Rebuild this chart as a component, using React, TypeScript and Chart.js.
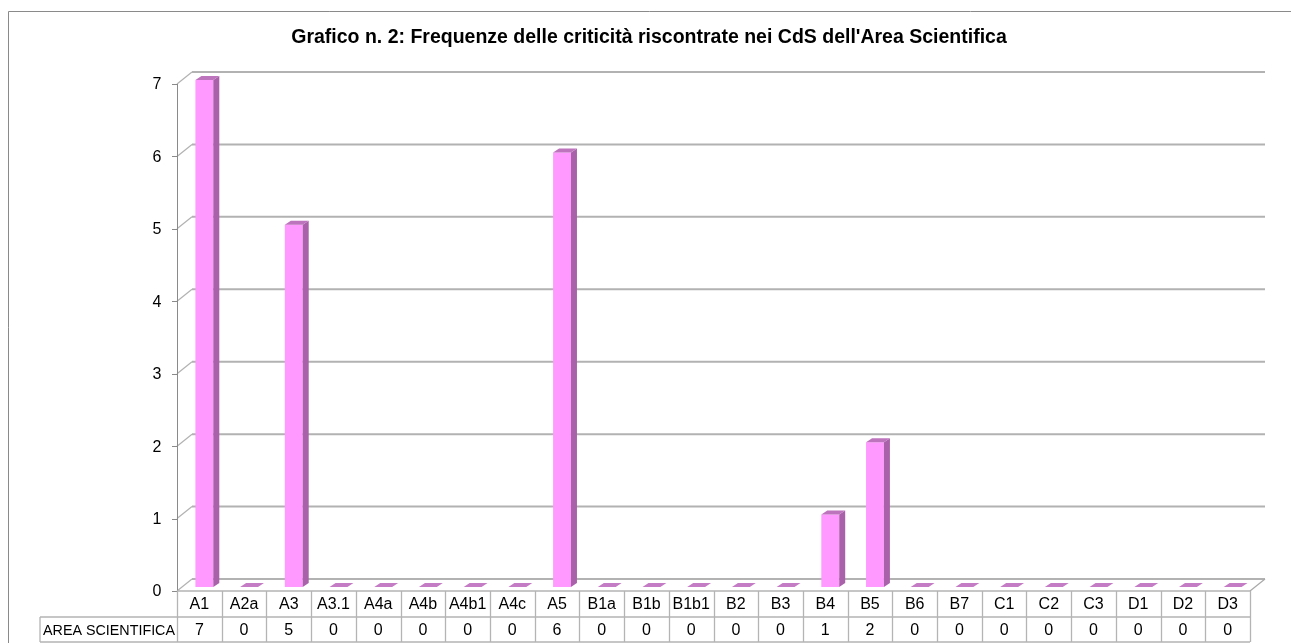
import React, { useEffect, useRef } from "react";
import { Chart, registerables } from "chart.js";

Chart.register(...registerables);

const chartTitle = "Grafico n. 2: Frequenze delle criticità riscontrate nei CdS dell'Area Scientifica";
const seriesName = "AREA SCIENTIFICA";
const categories = ["A1", "A2a", "A3", "A3.1", "A4a", "A4b", "A4b1", "A4c", "A5", "B1a", "B1b", "B1b1", "B2", "B3", "B4", "B5", "B6", "B7", "C1", "C2", "C3", "D1", "D2", "D3"];
const values = [7, 0, 5, 0, 0, 0, 0, 0, 6, 0, 0, 0, 0, 0, 1, 2, 0, 0, 0, 0, 0, 0, 0, 0];
const yTicks = [0, 1, 2, 3, 4, 5, 6, 7];

const FONT = "'Liberation Sans', Arial, sans-serif";

const decorPlugin = {
  id: "decor3d",
  beforeDatasetsDraw(chart: any) {
    const ctx = chart.ctx;
    const xs = chart.scales.x;
    const ys = chart.scales.y;
    const ca = chart.chartArea;
    const fdx = -5, fdy = 4, bdx = 10, bdy = -8;
    const frontLeft = ca.left + fdx;
    const frontRight = ca.right + fdx;
    const backLeft = ca.left + bdx;
    const backRight = ca.right + bdx;
    ctx.save();

    // outer border
    ctx.strokeStyle = "#8a8a8a";
    ctx.lineWidth = 1;
    ctx.beginPath();
    ctx.moveTo(8.5, chart.height);
    ctx.lineTo(8.5, 11.5);
    ctx.lineTo(chart.width, 11.5);
    ctx.stroke();

    // title
    ctx.fillStyle = "#000";
    ctx.font = `bold 19.5px ${FONT}`;
    ctx.textAlign = "center";
    ctx.textBaseline = "middle";
    ctx.fillText(chartTitle, 649, 38, 728);

    // gridlines on back wall and side wall
    ctx.strokeStyle = "#b2b2b2";
    yTicks.forEach((t) => {
      const yb = ys.getPixelForValue(t);
      ctx.lineWidth = 2;
      ctx.beginPath();
      ctx.moveTo(backLeft, yb + bdy);
      ctx.lineTo(backRight, yb + bdy);
      ctx.stroke();
      ctx.lineWidth = 1.3;
      ctx.beginPath();
      ctx.moveTo(frontLeft, yb + fdy);
      ctx.lineTo(backLeft, yb + bdy);
      ctx.stroke();
    });

    // floor
    const y0 = ys.getPixelForValue(0);
    ctx.strokeStyle = "#a8a8a8";
    ctx.lineWidth = 1.3;
    ctx.beginPath();
    ctx.moveTo(frontRight, y0 + fdy);
    ctx.lineTo(backRight, y0 + bdy);
    ctx.stroke();

    // value axis
    const yTop = ys.getPixelForValue(yTicks[yTicks.length - 1]);
    ctx.strokeStyle = "#8a8a8a";
    ctx.lineWidth = 1;
    ctx.beginPath();
    ctx.moveTo(frontLeft + 0.5, yTop + fdy);
    ctx.lineTo(frontLeft + 0.5, y0 + fdy);
    ctx.stroke();
    ctx.fillStyle = "#000";
    ctx.font = `16px ${FONT}`;
    ctx.textAlign = "center";
    ctx.textBaseline = "middle";
    yTicks.forEach((t) => {
      const yb = ys.getPixelForValue(t) + fdy;
      ctx.beginPath();
      ctx.moveTo(frontLeft - 5, Math.round(yb) + 0.5);
      ctx.lineTo(frontLeft, Math.round(yb) + 0.5);
      ctx.stroke();
      ctx.fillText(String(t), 157, yb + 1);
    });

    // data table
    const rowTop = y0 + fdy;
    const rowMid = rowTop + 26;
    const rowBot = rowMid + 25;
    const labelLeft = 40;
    ctx.strokeStyle = "#b4b4b4";
    ctx.lineWidth = 1.3;
    ctx.beginPath();
    ctx.moveTo(frontLeft, rowTop);
    ctx.lineTo(frontRight, rowTop);
    ctx.moveTo(labelLeft, rowMid);
    ctx.lineTo(frontRight, rowMid);
    ctx.moveTo(labelLeft, rowBot);
    ctx.lineTo(frontRight, rowBot);
    ctx.moveTo(labelLeft, rowMid);
    ctx.lineTo(labelLeft, rowBot);
    ctx.stroke();
    const n = categories.length;
    const bin = (ca.right - ca.left) / n;
    for (let i = 0; i <= n; i++) {
      const bx = Math.round(frontLeft + i * bin) + 0.5;
      ctx.beginPath();
      ctx.moveTo(bx, rowTop);
      ctx.lineTo(bx, rowBot);
      ctx.stroke();
    }
    ctx.fillStyle = "#000";
    ctx.font = `16px ${FONT}`;
    ctx.textAlign = "center";
    ctx.textBaseline = "middle";
    categories.forEach((c, i) => {
      const cx = xs.getPixelForValue(i) + fdx;
      ctx.fillText(c, cx, (rowTop + rowMid) / 2 + 1, bin - 4);
      ctx.fillText(String(values[i]), cx, (rowMid + rowBot) / 2 + 1);
    });
    ctx.textAlign = "left";
    ctx.font = `14.5px ${FONT}`;
    ctx.fillText(seriesName, labelLeft + 3, (rowMid + rowBot) / 2 + 1, 132);
    ctx.restore();
  },
  afterDatasetsDraw(chart: any) {
    const ctx = chart.ctx;
    const meta = chart.getDatasetMeta(0);
    const dx = 6, dy = -4;
    ctx.save();
    meta.data.forEach((bar: any) => {
      const left = bar.x - bar.width / 2;
      const right = bar.x + bar.width / 2;
      const top = bar.y;
      const base = bar.base;
      if (base - top > 0.5) {
        ctx.fillStyle = "#a962a9";
        ctx.beginPath();
        ctx.moveTo(right, top);
        ctx.lineTo(right + dx, top + dy);
        ctx.lineTo(right + dx, base + dy);
        ctx.lineTo(right, base);
        ctx.closePath();
        ctx.fill();
        ctx.fillStyle = "#bd74bd";
      } else {
        ctx.fillStyle = "#c47cc4";
      }
      ctx.beginPath();
      ctx.moveTo(left, top);
      ctx.lineTo(right, top);
      ctx.lineTo(right + dx, top + dy);
      ctx.lineTo(left + dx, top + dy);
      ctx.closePath();
      ctx.fill();
    });
    ctx.restore();
  },
};

export default function App() {
  const ref = useRef<HTMLCanvasElement | null>(null);
  useEffect(() => {
    if (!ref.current) return;
    const chart = new Chart(ref.current, {
      type: "bar",
      data: {
        labels: categories,
        datasets: [
          {
            label: seriesName,
            data: values,
            backgroundColor: "#ff99ff",
            borderWidth: 0,
            barPercentage: 0.4,
            categoryPercentage: 1,
          },
        ],
      },
      options: {
        animation: false,
        responsive: false,
        devicePixelRatio: 1,
        layout: { padding: { left: 182, right: 36, top: 80, bottom: 56 } },
        plugins: { legend: { display: false }, title: { display: false }, tooltip: { enabled: false } },
        scales: {
          x: { display: false, offset: true, grid: { display: false } },
          y: { display: false, min: 0, max: 7, grid: { display: false } },
        },
      },
      plugins: [decorPlugin],
    });
    return () => chart.destroy();
  }, []);
  return (
    <div style={{ position: "fixed", left: 0, top: 0, width: 1291, height: 643, background: "#fff" }}>
      <canvas ref={ref} width={1291} height={643} style={{ display: "block" }} />
    </div>
  );
}
